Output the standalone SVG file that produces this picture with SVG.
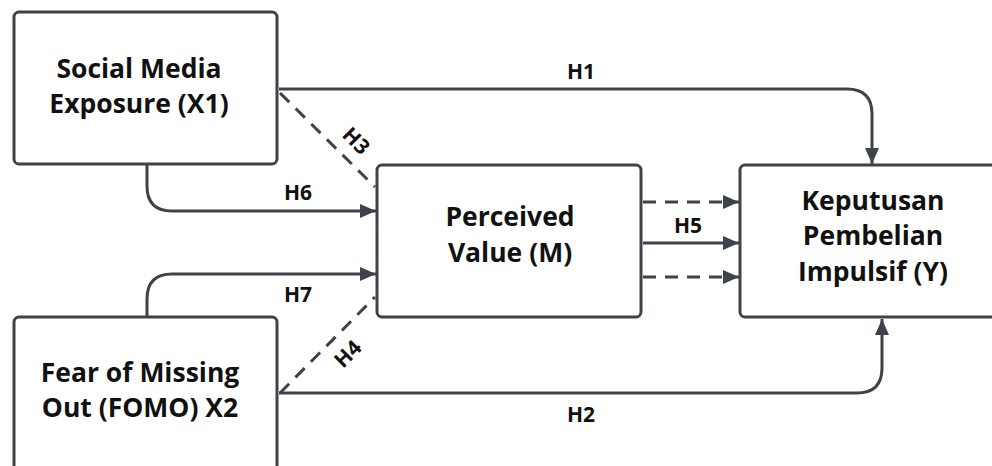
<svg xmlns="http://www.w3.org/2000/svg" width="992" height="466" viewBox="0 0 992 466">
<style>
.box{fill:#fff;stroke:#3e434a;stroke-width:3}
.ln{fill:none;stroke:#3e434a;stroke-width:3}
.ds{stroke-dasharray:13 9}
.t{font-family:"Open Sans","DejaVu Sans",sans-serif;font-weight:700;font-size:26.5px;fill:#111;text-anchor:middle}
.l{font-family:"Open Sans","DejaVu Sans",sans-serif;font-weight:700;font-size:21px;fill:#111;text-anchor:middle}
</style>
<defs>
<marker id="ah" viewBox="0 0 16 14" refX="16" refY="7" markerWidth="16" markerHeight="14" markerUnits="userSpaceOnUse" orient="auto">
<path d="M0,0 L16,7 L0,14 Z" fill="#3e434a"/>
</marker>
</defs>
<rect width="992" height="466" fill="#fff"/>
<g id="connectors">
<path class="ln" d="M279,89 H847 Q872,89 872,114 V164" marker-end="url(#ah)"/>
<path class="ln ds" d="M280,93 L375,187"/>
<path class="ln" d="M147,165 V186 Q147,211 172,211 H376" marker-end="url(#ah)"/>
<path class="ln" d="M147,316 V299 Q147,274 172,274 H376" marker-end="url(#ah)"/>
<path class="ln ds" d="M280,393 L375,297"/>
<path class="ln" d="M279,393 H857 Q882,393 882,368 V319" marker-end="url(#ah)"/>
<path class="ln ds" d="M643,202 H739" marker-end="url(#ah)"/>
<path class="ln" d="M643,243 H739" marker-end="url(#ah)"/>
<path class="ln ds" d="M643,277 H739" marker-end="url(#ah)"/>
<text class="l" x="581" y="79">H1</text>
<text class="l" x="356" y="148" transform="rotate(45 356 141)">H3</text>
<text class="l" x="298" y="200">H6</text>
<text class="l" x="298" y="302">H7</text>
<text class="l" x="348" y="361" transform="rotate(-45 348 354)">H4</text>
<text class="l" x="581" y="422">H2</text>
<text class="l" x="688" y="233">H5</text>
</g>
<g id="x1">
<rect class="box" x="14" y="12" width="263" height="152" rx="5"/>
<text class="t" x="139" y="78">Social Media</text>
<text class="t" x="139" y="113">Exposure (X1)</text>
</g>
<g id="m">
<rect class="box" x="377" y="165" width="264" height="152" rx="5"/>
<text class="t" x="510" y="226">Perceived</text>
<text class="t" x="510" y="262">Value (M)</text>
</g>
<g id="y">
<rect class="box" x="740" y="165" width="262" height="152" rx="5"/>
<text class="t" x="873" y="210">Keputusan</text>
<text class="t" x="873" y="245">Pembelian</text>
<text class="t" x="873" y="281">Impulsif (Y)</text>
</g>
<g id="x2">
<rect class="box" x="14" y="317" width="263" height="160" rx="5"/>
<text class="t" x="140" y="382">Fear of Missing</text>
<text class="t" x="140" y="417">Out (FOMO) X2</text>
</g>
</svg>
